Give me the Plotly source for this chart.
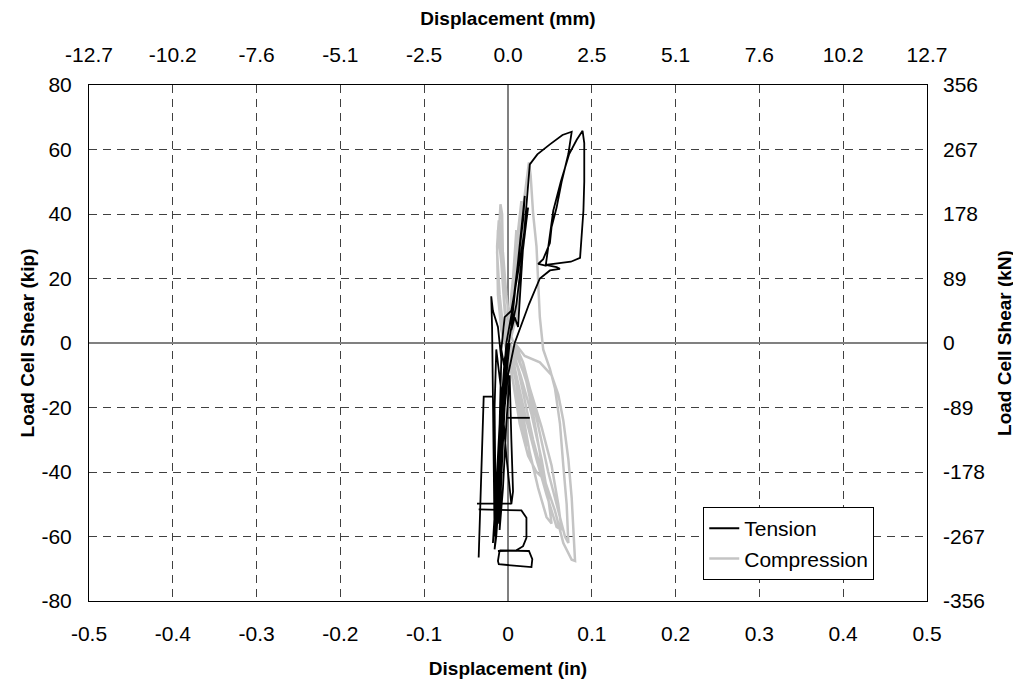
import plotly.graph_objects as go

# Load cell shear vs displacement, hysteresis traces

# Tension trace (in, kip); None breaks the pen
tension_x = [
    0.0, -0.005, -0.010, -0.012, -0.008, -0.002, 0.005, 0.012, 0.018, 0.020,
    0.016, 0.010, 0.004, -0.004, -0.008, -0.004, 0.004, 0.012,
    0.020, 0.024, 0.022, 0.016, 0.010, 0.004, 0.008, 0.012,
    0.018, 0.026, 0.035, 0.050, 0.065, 0.076, 0.072, 0.064, 0.058, 0.052,
    0.050, 0.042, 0.036, 0.045, 0.048, 0.054, 0.063, 0.073, 0.082, 0.089,
    0.091, 0.091, 0.090, 0.088, 0.086, 0.075, 0.060, 0.045, 0.058, 0.062,
    0.050, 0.038, 0.025, 0.015, 0.008,
    0.000, -0.006, -0.010, -0.014, -0.016, -0.012, -0.006, -0.002, 0.002,
    -0.004, -0.010, -0.016, -0.018, -0.014, -0.010, -0.008, -0.012, -0.018,
    -0.020, -0.019, -0.018, -0.017, -0.016, -0.012, -0.008, -0.004, 0.000,
    -0.004, -0.008, -0.010, -0.006, -0.002, 0.002, 0.004, 0.006, 0.004,
    -0.002, -0.008, -0.014, -0.016, -0.015, -0.012, -0.008, -0.004, 0.000,
    -0.006, -0.011, -0.013, -0.009, -0.003, 0.0,
    None, -0.018, -0.029, -0.035,
    None, -0.037, 0.004,
    None, -0.035, 0.016, 0.022, 0.022, 0.018, 0.010, -0.012,
    None, -0.010, -0.012, -0.011, 0.028, 0.029, 0.025, -0.010,
    None, -0.002, 0.026,
]
tension_y = [
    0.0, -10.0, -25.0, -35.0, -20.0, 0.0, 10.0, 25.0, 38.0, 45.6,
    35.0, 20.0, 5.0, -8.0, -2.0, 8.0, 10.0, 22.0,
    35.0, 42.0, 38.0, 25.0, 12.0, 4.0, 8.0, 5.0,
    30.0, 55.4, 58.5, 61.6, 64.5, 65.5, 58.6, 50.0, 42.0, 36.0,
    31.0, 26.0, 24.5, 24.0, 30.0, 41.0, 50.0, 58.6, 63.0, 65.8,
    62.0, 50.0, 41.0, 32.0, 26.4, 25.2, 24.6, 24.2, 23.5, 23.0,
    22.5, 20.0, 12.0, 5.0, 0.0,
    -10.0, -25.0, -45.0, -60.0, -64.0, -50.0, -30.0, -10.0, 0.0,
    -15.0, -35.0, -55.0, -62.0, -45.0, -25.0, -5.0, 5.0, 10.0,
    14.5, 5.0, -15.0, -40.0, -60.0, -40.0, -20.0, -5.0, 0.0,
    -20.0, -42.0, -58.0, -45.0, -25.0, -10.0, -30.0, -46.0, -50.0,
    -35.0, -15.0, -2.0, -20.0, -45.0, -56.0, -40.0, -20.0, 0.0,
    -18.0, -38.0, -52.0, -30.0, -8.0, 0.0,
    None, -16.6, -16.6, -66.5,
    None, -49.8, -49.8,
    None, -51.6, -51.9, -54.2, -60.4, -63.0, -64.3, -64.5,
    None, -64.3, -67.6, -68.6, -69.5, -67.0, -64.5, -64.3,
    None, -23.2, -23.2,
]

# Compression trace (in, kip)
compression_x = [
    0.0, 0.004, 0.010, 0.014, 0.016, 0.012, 0.006, 0.000, -0.004, -0.008,
    -0.010, -0.009, -0.007, -0.006, -0.004, 0.000, 0.006, 0.014, 0.024, 0.034,
    0.042, 0.038, 0.030, 0.022, 0.012, 0.004, 0.006, 0.012, 0.018, 0.022,
    0.025, 0.027, 0.030, 0.034, 0.036, 0.038, 0.042, 0.050, 0.056, 0.062,
    0.066, 0.070, 0.072, 0.068, 0.058, 0.048, 0.038, 0.028, 0.018, 0.008,
    0.020, 0.038, 0.052, 0.060, 0.066, 0.072, 0.076, 0.079, 0.080, 0.076,
    0.066, 0.056, 0.046, 0.038, 0.030, 0.020, 0.012, 0.005, 0.015, 0.028,
    0.040, 0.048, 0.052, 0.046, 0.036, 0.026, 0.016, 0.008, 0.002, 0.012,
    0.026, 0.040, 0.052, 0.060, 0.064, 0.058, 0.046, 0.034, 0.022, 0.010,
    0.002, -0.004, -0.008, -0.012, -0.013, -0.010, -0.006, 0.000, 0.004,
    0.008, 0.010, 0.006, 0.002, -0.002, 0.004, 0.010, 0.016, 0.020, 0.022,
    0.018, 0.014, 0.010, 0.004, -0.002, -0.006, -0.011, -0.013, -0.012, -0.008,
    0.000, 0.006, 0.012, 0.020, 0.024, 0.016, 0.008, 0.0,
]
compression_y = [
    0.0, 15.0, 30.0, 40.0, 44.0, 30.0, 15.0, 0.0, 10.0, 25.0,
    38.0, 43.0, 40.0, 25.0, 10.0, -2.0, -12.0, -25.0, -35.0, -40.0,
    -42.0, -34.0, -22.0, -12.0, -4.0, 2.0, 15.0, 30.0, 42.0, 50.0,
    56.0, 52.0, 40.0, 30.0, 20.0, 8.0, -2.0, -8.0, -14.0, -25.0,
    -38.0, -50.0, -62.0, -60.0, -50.0, -40.0, -28.0, -16.0, -6.0, 0.0,
    -4.0, -6.0, -10.0, -16.0, -24.0, -36.0, -48.0, -60.0, -67.6, -67.2,
    -62.0, -52.0, -44.0, -38.0, -30.0, -18.0, -8.0, -2.0, -10.0, -22.0,
    -36.0, -48.0, -56.0, -54.0, -45.0, -34.0, -20.0, -8.0, 0.0, -5.0,
    -14.0, -26.0, -38.0, -50.0, -58.0, -57.0, -47.0, -36.0, -24.0, -10.0,
    0.0, 12.0, 25.0, 35.0, 28.0, 15.0, 5.0, -3.0, 10.0,
    22.0, 35.0, 20.0, 5.0, -2.0, 8.0, 20.0, 30.0, 36.0, 40.0,
    30.0, 18.0, 8.0, 2.0, 15.0, 28.0, 38.0, 30.0, 15.0, 4.0,
    -4.0, -12.0, -20.0, -28.0, -32.0, -22.0, -10.0, 0.0,
]

# Tick positions and labels
in_ticks = [-0.5, -0.4, -0.3, -0.2, -0.1, 0.0, 0.1, 0.2, 0.3, 0.4, 0.5]
in_labels = ["-0.5", "-0.4", "-0.3", "-0.2", "-0.1", "0", "0.1", "0.2", "0.3", "0.4", "0.5"]
mm_labels = ["-12.7", "-10.2", "-7.6", "-5.1", "-2.5", "0.0", "2.5", "5.1", "7.6", "10.2", "12.7"]
kip_ticks = [-80, -60, -40, -20, 0, 20, 40, 60, 80]
kip_labels = ["-80", "-60", "-40", "-20", "0", "20", "40", "60", "80"]
kn_labels = ["-356", "-267", "-178", "-89", "0", "89", "178", "267", "356"]

font = "Liberation Sans, Arial, sans-serif"
grid = "#404040"
title_font = dict(family=font, size=19, color="black")

fig = go.Figure()
fig.add_trace(go.Scatter(x=compression_x, y=compression_y, mode="lines", name="Compression",
                         line=dict(color="#c4c4c4", width=2.5), legendrank=2))
fig.add_trace(go.Scatter(x=tension_x, y=tension_y, mode="lines", name="Tension",
                         line=dict(color="black", width=1.8), legendrank=1))
# dummy traces to bring up the top and right axes
fig.add_trace(go.Scatter(x=[None], y=[None], xaxis="x2", showlegend=False))
fig.add_trace(go.Scatter(x=[None], y=[None], yaxis="y2", showlegend=False))

# page body adds an 8px margin, so the margins are shifted to compensate
fig.update_layout(
    width=1021, height=682,
    margin=dict(l=81, r=102, t=77, b=89),
    paper_bgcolor="white", plot_bgcolor="white",
    font=dict(family=font, size=21, color="black"),
    showlegend=True,
    legend=dict(x=0.733, y=0.182, xanchor="left", yanchor="top",
                bordercolor="black", borderwidth=1, bgcolor="white",
                font=dict(size=21), tracegroupgap=0, itemwidth=30),
    xaxis=dict(range=[-0.5, 0.5], tickvals=in_ticks, ticktext=in_labels,
               showline=True, mirror=True, linecolor="black", linewidth=1,
               showgrid=True, gridcolor=grid, griddash="8px,6px", gridwidth=1,
               zeroline=True, zerolinecolor="#808080", zerolinewidth=1.5,
               ticks="", ticklabelstandoff=14, automargin=False,
               title=dict(text="<b>Displacement (in)</b>", standoff=17, font=title_font)),
    xaxis2=dict(range=[-0.5, 0.5], tickvals=in_ticks, ticktext=mm_labels,
                overlaying="x", side="top", showgrid=False, zeroline=False,
                showline=False, ticks="", ticklabelstandoff=18, automargin=False,
                title=dict(text="<b>Displacement (mm)</b>", standoff=12, font=title_font)),
    yaxis=dict(range=[-80, 80], tickvals=kip_ticks, ticktext=kip_labels,
               showline=True, mirror=True, linecolor="black", linewidth=1,
               showgrid=True, gridcolor=grid, griddash="8px,6px", gridwidth=1,
               zeroline=True, zerolinecolor="#808080", zerolinewidth=1.5,
               ticks="", ticklabelstandoff=12, automargin=False,
               title=dict(text="<b>Load Cell Shear (kip)</b>", standoff=1, font=title_font)),
    yaxis2=dict(range=[-80, 80], tickvals=kip_ticks, ticktext=kn_labels,
                overlaying="y", side="right", showgrid=False, zeroline=False,
                showline=False, ticks="", ticklabelstandoff=15, automargin=False,
                title=dict(text="<b>Load Cell Shear (kN)</b>", standoff=13, font=title_font)),
)

fig.write_html("out.html")
